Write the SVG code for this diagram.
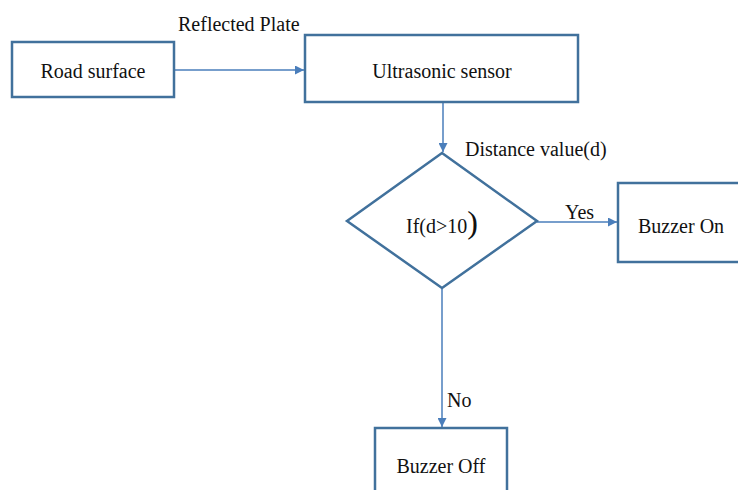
<svg xmlns="http://www.w3.org/2000/svg" width="738" height="490" viewBox="0 0 738 490">
<defs>
<marker id="arr" viewBox="0 0 10 10" refX="10" refY="5" markerWidth="9" markerHeight="9" markerUnits="userSpaceOnUse" orient="auto">
<path d="M0,0 L10,5 L0,10 z" fill="#4a7ebb"/>
</marker>
<style>
.box{fill:#fff;stroke:#41719c;stroke-width:2.5}
.t{font-family:'Liberation Serif','DejaVu Serif',serif;font-size:20px;fill:#111}
.c{stroke:#4a7ebb;stroke-width:1.5;fill:none}
</style>
</defs>
<rect width="738" height="490" fill="#fff"/>
<g id="connectors">
<line class="c" x1="174" y1="70" x2="304" y2="70" marker-end="url(#arr)"/>
<line class="c" x1="443" y1="102" x2="443" y2="152" marker-end="url(#arr)"/>
<line class="c" x1="537" y1="222" x2="617" y2="222" marker-end="url(#arr)"/>
<line class="c" x1="442" y1="289" x2="442" y2="427" marker-end="url(#arr)"/>
<text class="t" font-family="Liberation Serif, serif" x="178" y="31">Reflected Plate</text>
<text class="t" font-family="Liberation Serif, serif" x="465" y="156" font-size="19">Distance value(d)</text>
<text class="t" font-family="Liberation Serif, serif" x="565" y="219" font-size="18">Yes</text>
<text class="t" font-family="Liberation Serif, serif" x="447" y="407">No</text>
</g>
<g id="road">
<rect class="box" x="12" y="42" width="162" height="55"/>
<text class="t" font-family="Liberation Serif, serif" x="93" y="78" text-anchor="middle">Road surface</text>
</g>
<g id="sensor">
<rect class="box" x="305" y="35" width="273" height="67"/>
<text class="t" font-family="Liberation Serif, serif" x="442" y="78" text-anchor="middle">Ultrasonic sensor</text>
</g>
<g id="decision">
<polygon class="box" points="442,153 537,221 442,288 347,221"/>
<text class="t" font-family="Liberation Serif, serif" x="406" y="233">If(d&gt;10<tspan font-size="32">)</tspan></text>
</g>
<g id="buzzeron">
<rect class="box" x="618" y="183" width="130" height="79"/>
<text class="t" font-family="Liberation Serif, serif" x="638" y="233">Buzzer On</text>
</g>
<g id="buzzeroff">
<rect class="box" x="375" y="428" width="132" height="80"/>
<text class="t" font-family="Liberation Serif, serif" x="441" y="473" text-anchor="middle">Buzzer Off</text>
</g>
</svg>
